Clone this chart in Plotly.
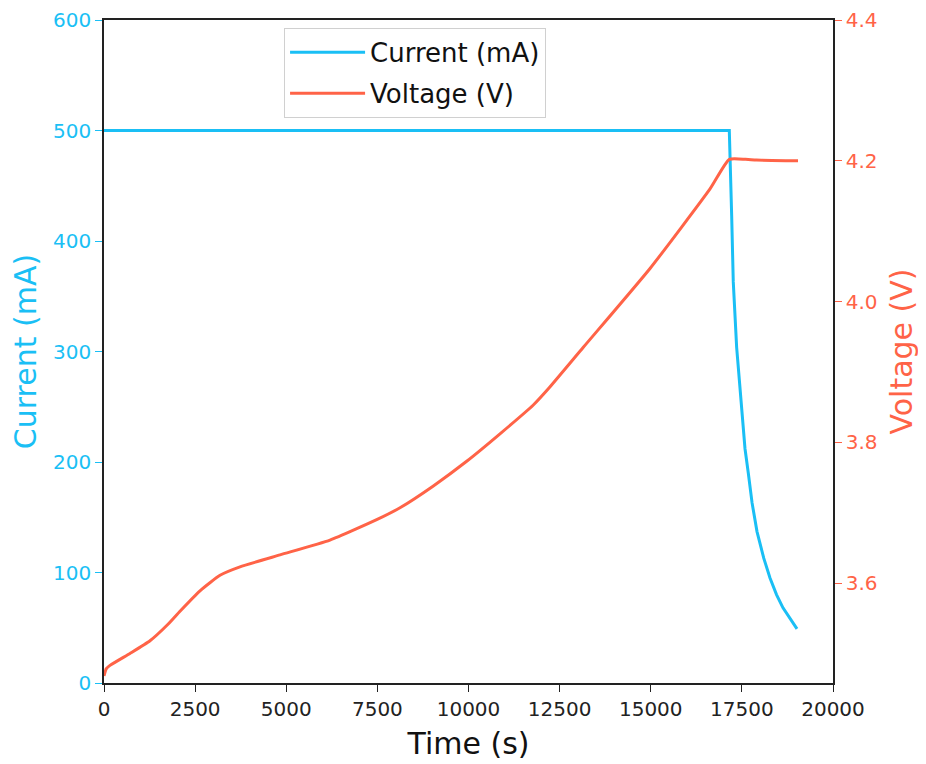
import plotly.graph_objects as go

# charge curve (CC-CV)
voltage_time = [0, 60, 165, 713, 1262, 1728, 2085, 2634, 3183, 3731, 4829, 6200,
                7481, 8121, 9036, 9950, 10864, 11778, 12190, 13150, 14980, 16626,
                17155, 17600, 17900, 19040]
voltage_v = [3.468, 3.478, 3.483, 3.500, 3.518, 3.540, 3.560, 3.589, 3.611, 3.623,
             3.640, 3.661, 3.690, 3.707, 3.738, 3.773, 3.812, 3.853, 3.876, 3.935,
             4.047, 4.160, 4.202, 4.202, 4.201, 4.200]

current_time = [0, 17155, 17220, 17264, 17356, 17494, 17586, 17676, 17780, 17915,
                18100, 18272, 18450, 18628, 18820, 19012]
current_ma = [500, 500, 423, 363, 304, 244, 212, 190, 163, 137, 113, 95, 80, 68, 58, 49]

x_ticks = [0, 2500, 5000, 7500, 10000, 12500, 15000, 17500, 20000]
v_ticks = [3.6, 3.8, 4.0, 4.2, 4.4]

BLUE = "#1ABFF5"
RED = "#FF6347"
FONT = "DejaVu Sans"

fig = go.Figure()
fig.add_trace(go.Scatter(x=current_time, y=current_ma, mode="lines", name="Current (mA)",
                         line=dict(color=BLUE, width=3), legendgroup="a"))
fig.add_trace(go.Scatter(x=voltage_time, y=voltage_v, mode="lines", name="Voltage (V)",
                         line=dict(color=RED, width=3, shape="spline", smoothing=0.5),
                         yaxis="y2", legendgroup="b"))

fig.update_layout(
    width=926, height=764,
    margin=dict(l=96, r=101, t=12, b=89),
    paper_bgcolor="white", plot_bgcolor="white",
    font=dict(family=FONT, size=20, color="#222"),
    showlegend=True,
    legend=dict(x=0.247, y=0.988, xanchor="left", yanchor="top",
                bgcolor="white", bordercolor="#d0d0d0", borderwidth=1,
                font=dict(size=26, color="#111"), traceorder="grouped",
                tracegroupgap=4, itemwidth=75),
    xaxis=dict(range=[0, 20000], tickvals=x_ticks, ticktext=[str(v) for v in x_ticks],
               showgrid=False, zeroline=False, automargin=False, ticklabeloverflow="allow",
               showline=True, linecolor="#222", linewidth=1.5, mirror=True,
               ticks="outside", ticklen=7, tickcolor="#222",
               tickfont=dict(size=20, color="#222"),
               title=dict(text="Time (s)", font=dict(size=30, color="#111"), standoff=13)),
    yaxis=dict(range=[0, 600], dtick=100, showgrid=False, zeroline=False, automargin=False,
               ticklabeloverflow="allow",
               showline=True, linecolor="#222", linewidth=1.5,
               ticks="outside", ticklen=7, tickcolor=BLUE,
               tickfont=dict(size=20, color=BLUE),
               title=dict(text="Current (mA)", font=dict(size=30, color=BLUE), standoff=15)),
    yaxis2=dict(range=[3.458, 4.4], tickvals=v_ticks, tickformat=".1f",
                overlaying="y", side="right", showgrid=False, zeroline=False, automargin=False,
                ticklabeloverflow="allow",
                showline=True, linecolor="#222", linewidth=1.5,
                ticks="outside", ticklen=7, tickcolor=RED,
                tickfont=dict(size=20, color=RED),
                title=dict(text="Voltage (V)", font=dict(size=30, color=RED), standoff=14)),
)

fig.write_html("out.html")
